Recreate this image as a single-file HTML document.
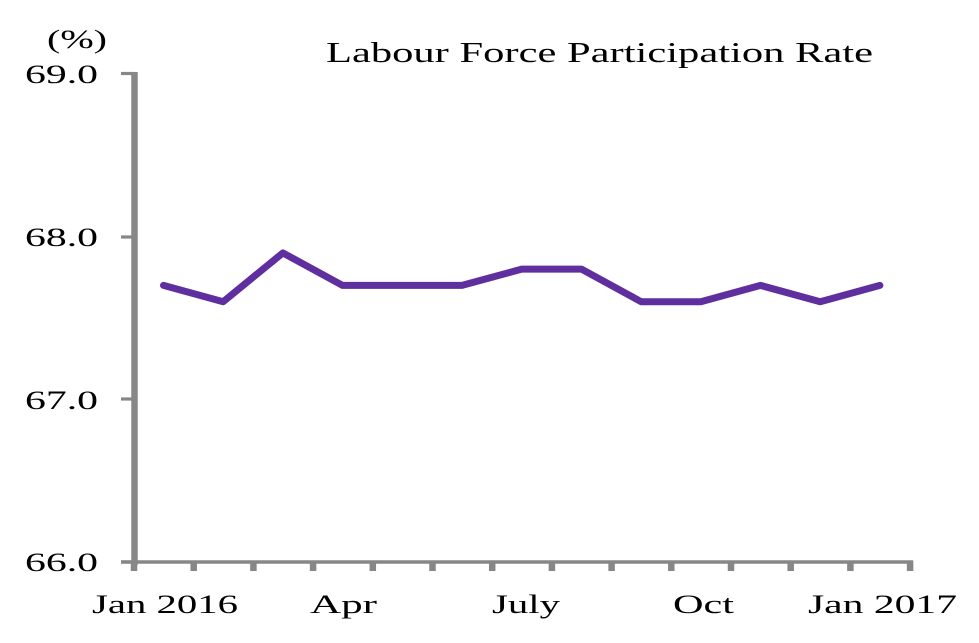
<!DOCTYPE html>
<html>
<head>
<meta charset="utf-8">
<style>
  html, body { margin: 0; padding: 0; background: #ffffff; }
  svg { display: block; }
  text { font-family: "Liberation Serif", "Times New Roman", serif; fill: #000; }
</style>
</head>
<body>
<svg width="979" height="643" viewBox="0 0 979 643" xmlns="http://www.w3.org/2000/svg">
  <rect x="0" y="0" width="979" height="643" fill="#ffffff"/>

  <!-- Title -->
  <text x="326" y="62" font-size="29" textLength="547" lengthAdjust="spacingAndGlyphs">Labour Force Participation Rate</text>

  <!-- Unit label -->
  <text x="47" y="48" font-size="26" textLength="60" lengthAdjust="spacingAndGlyphs">(%)</text>

  <!-- Y tick labels -->
  <text x="25" y="83" font-size="26" textLength="73" lengthAdjust="spacingAndGlyphs">69.0</text>
  <text x="25" y="246" font-size="26" textLength="73" lengthAdjust="spacingAndGlyphs">68.0</text>
  <text x="25" y="409" font-size="26" textLength="73" lengthAdjust="spacingAndGlyphs">67.0</text>
  <text x="25" y="571" font-size="26" textLength="73" lengthAdjust="spacingAndGlyphs">66.0</text>

  <!-- Axes -->
  <g stroke="#878787" fill="none">
    <line x1="134.5" y1="72" x2="134.5" y2="565" stroke-width="6.5"/>
    <line x1="121" y1="73.5" x2="135" y2="73.5" stroke-width="3.2"/>
    <line x1="121" y1="237" x2="135" y2="237" stroke-width="3.2"/>
    <line x1="121" y1="399" x2="135" y2="399" stroke-width="3.2"/>
    <line x1="121" y1="562" x2="135" y2="562" stroke-width="3.2"/>
    <line x1="121" y1="562" x2="913" y2="562" stroke-width="3.4"/>
    <g stroke-width="6.5">
      <line x1="134" y1="561" x2="134" y2="571"/>
      <line x1="193.7" y1="561" x2="193.7" y2="571"/>
      <line x1="253.4" y1="561" x2="253.4" y2="571"/>
      <line x1="313.1" y1="561" x2="313.1" y2="571"/>
      <line x1="372.8" y1="561" x2="372.8" y2="571"/>
      <line x1="432.5" y1="561" x2="432.5" y2="571"/>
      <line x1="492.2" y1="561" x2="492.2" y2="571"/>
      <line x1="551.9" y1="561" x2="551.9" y2="571"/>
      <line x1="611.6" y1="561" x2="611.6" y2="571"/>
      <line x1="671.3" y1="561" x2="671.3" y2="571"/>
      <line x1="731" y1="561" x2="731" y2="571"/>
      <line x1="790.7" y1="561" x2="790.7" y2="571"/>
      <line x1="850.4" y1="561" x2="850.4" y2="571"/>
      <line x1="910.1" y1="561" x2="910.1" y2="571"/>
    </g>
  </g>

  <!-- X labels -->
  <text x="165" y="613" font-size="26" text-anchor="middle" textLength="146" lengthAdjust="spacingAndGlyphs">Jan 2016</text>
  <text x="343.5" y="613" font-size="26" text-anchor="middle" textLength="67" lengthAdjust="spacingAndGlyphs">Apr</text>
  <text x="526" y="613" font-size="26" text-anchor="middle" textLength="68" lengthAdjust="spacingAndGlyphs">July</text>
  <text x="703.5" y="613" font-size="26" text-anchor="middle" textLength="61" lengthAdjust="spacingAndGlyphs">Oct</text>
  <text x="882.5" y="613" font-size="26" text-anchor="middle" textLength="149" lengthAdjust="spacingAndGlyphs">Jan 2017</text>

  <!-- Series -->
  <polyline fill="none" stroke="#5f2f9f" stroke-width="7" stroke-linejoin="round" stroke-linecap="round"
    points="163.5,285.4 223.2,301.7 282.9,252.9 342.6,285.4 402.3,285.4 462,285.4 521.7,269.1 581.4,269.1 641.1,301.7 700.8,301.7 760.5,285.4 820.2,301.7 879.9,285.4"/>
</svg>
</body>
</html>
